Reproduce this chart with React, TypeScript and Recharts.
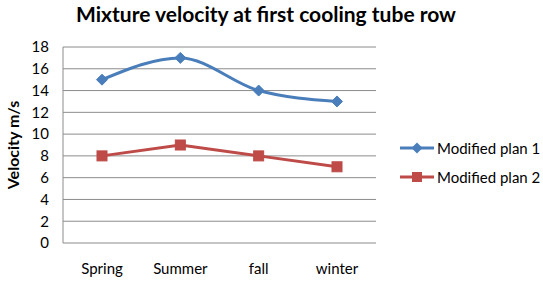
import React from 'react';
import { LineChart, Line, XAxis, YAxis, CartesianGrid } from 'recharts';

const seasons = ['Spring', 'Summer', 'fall', 'winter'];
const plan1 = [15, 17, 14, 13];
const plan2 = [8, 9, 8, 7];
const yTicks = [0, 2, 4, 6, 8, 10, 12, 14, 16, 18];
const seriesNames = ['Modified plan 1', 'Modified plan 2'];

const data = seasons.map((s, i) => ({ season: s, p1: plan1[i], p2: plan2[i] }));

const BLUE = '#4A7EBB';
const RED = '#BE4B48';
const FONT = 'Lato, "Open Sans", sans-serif';

const Diamond = (props: any) => {
  const { cx, cy } = props;
  if (cx == null || cy == null) return null;
  const r = 5.5;
  return <path d={`M${cx},${cy - r}L${cx + r},${cy}L${cx},${cy + r}L${cx - r},${cy}Z`} fill={BLUE} stroke={BLUE} strokeWidth={1} />;
};

const Square = (props: any) => {
  const { cx, cy } = props;
  if (cx == null || cy == null) return null;
  const r = 5;
  return <rect x={cx - r} y={cy - r} width={2 * r} height={2 * r} fill={RED} stroke={RED} strokeWidth={1} />;
};

const LegendBox = () => {
  const items = [
    { name: seriesNames[0], color: BLUE, kind: 'd' },
    { name: seriesNames[1], color: RED, kind: 's' },
  ];
  return (
    <div style={{ position: 'absolute', left: 400, top: 133, fontFamily: FONT, fontSize: 15, color: '#000' }}>
      {items.map((it) => (
        <div key={it.name} style={{ display: 'flex', alignItems: 'center', height: 29, whiteSpace: 'nowrap' }}>
          <svg width={36} height={14} style={{ marginRight: 1 }}>
            <line x1={0} y1={7} x2={34} y2={7} stroke={it.color} strokeWidth={3} />
            {it.kind === 'd' ? (
              <path d="M17,1.5L22.5,7L17,12.5L11.5,7Z" fill={it.color} />
            ) : (
              <rect x={12} y={2} width={10} height={10} fill={it.color} />
            )}
          </svg>
          <span>{it.name}</span>
        </div>
      ))}
    </div>
  );
};

export default function App() {
  return (
    <div style={{ position: 'absolute', left: 0, top: 0, width: 543, height: 281, background: '#fff' }}>
      <div
        style={{
          position: 'absolute',
          left: 0,
          width: 532,
          top: 1,
          textAlign: 'center',
          fontFamily: FONT,
          fontWeight: 'bold',
          fontSize: 21,
          color: '#000',
          whiteSpace: 'nowrap',
        }}
      >
        Mixture velocity at first cooling tube row
      </div>
      <LineChart
        width={543}
        height={281}
        data={data}
        margin={{ top: 47, right: 167, bottom: 0, left: 0 }}
        style={{ position: 'absolute', left: 0, top: 0 }}
      >
        <CartesianGrid vertical={false} stroke="#8C8C8C" strokeWidth={1} />
        <XAxis
          dataKey="season"
          height={38}
          axisLine={false}
          tickLine={false}
          tickMargin={14}
          interval={0}
          padding={{ left: 39, right: 39 }}
          tick={{ fill: '#000', fontSize: 15, fontFamily: FONT }}
        />
        <YAxis
          width={63}
          domain={[0, 18]}
          ticks={yTicks}
          interval={0}
          axisLine={{ stroke: '#8C8C8C' }}
          tickLine={false}
          tickMargin={8}
          tick={{ fill: '#000', fontSize: 15, fontFamily: FONT }}
          label={{
            value: 'Velocity  m/s',
            angle: -90,
            position: 'insideLeft',
            offset: 13,
            style: { fontFamily: FONT, fontWeight: 'bold', fontSize: 16, fill: '#000', textAnchor: 'middle' },
          }}
        />
        <Line
          type="monotone"
          dataKey="p1"
          name={seriesNames[0]}
          stroke={BLUE}
          strokeWidth={3}
          dot={<Diamond />}
          activeDot={false}
          isAnimationActive={false}
        />
        <Line
          type="linear"
          dataKey="p2"
          name={seriesNames[1]}
          stroke={RED}
          strokeWidth={3}
          dot={<Square />}
          activeDot={false}
          isAnimationActive={false}
        />
      </LineChart>
      <LegendBox />
    </div>
  );
}
